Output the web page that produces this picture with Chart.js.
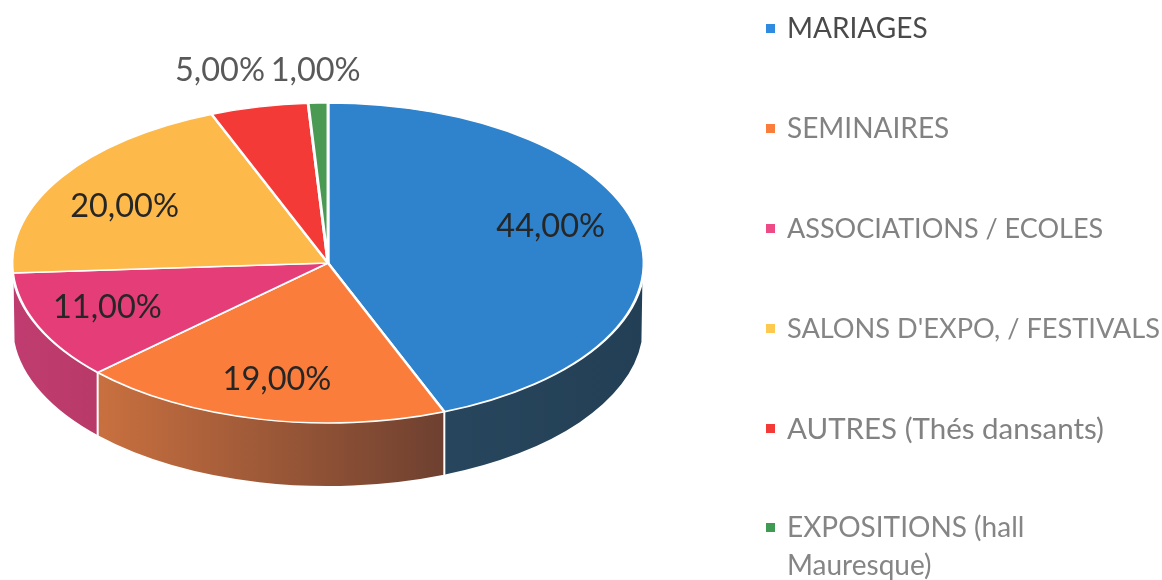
<!DOCTYPE html>
<html><head><meta charset="utf-8">
<style>html,body{margin:0;padding:0;background:#fff}canvas{display:block;filter:blur(0.45px)}</style>
<script src="https://cdn.jsdelivr.net/npm/chart.js@4"></script>
</head><body>
<div style="width:1162px;height:580px"><canvas id="c" width="1162" height="580"></canvas></div>
<script>
const categories = ['MARIAGES','SEMINAIRES','ASSOCIATIONS / ECOLES',"SALONS D'EXPO, / FESTIVALS",'AUTRES (Thés dansants)','EXPOSITIONS (hall Mauresque)'];
const legendLines = [['MARIAGES'],['SEMINAIRES'],['ASSOCIATIONS / ECOLES'],["SALONS D'EXPO, / FESTIVALS"],['AUTRES (Thés dansants)'],['EXPOSITIONS (hall','Mauresque)']];
const values = [44,19,11,20,5,1];
const topColors = ['#2e83cc','#fb7d3c','#e43d77','#fdb94a','#f43a36','#4a9a54'];
const sideColorsA = ['#27465d','#c9703f','#c03c70','#c99236','#b92c28','#35713d'];
const sideColorsB = ['#233f55','#6e4030','#b83a68','#c99236','#b92c28','#35713d'];
const legendColors = ['#2e8be0','#fb7d3c','#ee4b86','#fdc94f','#f43a36','#3f9a54'];
const legendTextColors = ['#4a4a4a','#828282','#828282','#858585','#828282','#858585'];
const labelColors = ['#262626','#262626','#262626','#262626','#595959','#595959'];
const labelNudges = [[-7,-14],[0,1],[-6,-3],[-6,7],[-57,-77],[-5,-74]];
const legendRows = [29,129,229,329,429,528];
const legendSizes = [28,28,27,27.2,29.5,28];

const RX = 316, RY = 160, DEPTH = 63;
const FONT = 'Lato, Carlito, "Open Sans", sans-serif';

const pie3d = {
  id:'pie3d',
  beforeDatasetsDraw(chart){
    const ctx = chart.ctx, arcs = chart.getDatasetMeta(0).data, e0 = arcs[0];
    const cx = e0.x, cy = e0.y;
    const minT = 0.1, maxT = Math.PI - 0.1;
    const pts = [];
    arcs.forEach((el,i)=>{
      const a = Math.max(el.startAngle,minT), b = Math.min(el.endAngle,maxT);
      if (b <= a) return;
      const xA = cx+RX*Math.cos(a), xB = cx+RX*Math.cos(b);
      const g = ctx.createLinearGradient(xB,0,xA,0);
      g.addColorStop(0,sideColorsA[i]); g.addColorStop(1,sideColorsB[i]);
      ctx.beginPath();
      ctx.ellipse(cx,cy,RX,RY,0,a,b,false);
      ctx.ellipse(cx,cy+DEPTH,RX-1,RY,0,b,a,true);
      ctx.closePath();
      ctx.fillStyle = g; ctx.fill();
      if (el.startAngle > minT) pts.push(el.startAngle);
    });
    ctx.strokeStyle = '#fff'; ctx.lineWidth = 2;
    pts.forEach(t=>{
      const x = cx+RX*Math.cos(t), y = cy+RY*Math.sin(t);
      ctx.beginPath(); ctx.moveTo(x,y); ctx.lineTo(x,y+DEPTH+1); ctx.stroke();
    });
    const R = e0.outerRadius;
    ctx.save();
    ctx.translate(cx,cy); ctx.scale(RX/R,RY/R); ctx.translate(-cx,-cy);
  },
  afterDatasetsDraw(chart){
    const ctx = chart.ctx, arcs = chart.getDatasetMeta(0).data;
    ctx.restore();
    const cx = arcs[0].x, cy = arcs[0].y;
    ctx.textBaseline = 'middle'; ctx.textAlign = 'center';
    ctx.font = '32.5px '+FONT;
    arcs.forEach((el,i)=>{
      const m = (el.startAngle+el.endAngle)/2;
      const x = cx+RX*0.74*Math.cos(m)+labelNudges[i][0];
      const y = cy+RY*0.74*Math.sin(m)+labelNudges[i][1];
      ctx.fillStyle = labelColors[i];
      ctx.fillText(values[i].toFixed(2).replace('.',',')+'%',x,y);
    });
    ctx.textAlign = 'left';
    legendLines.forEach((lines,i)=>{
      const y = legendRows[i];
      ctx.fillStyle = legendColors[i];
      ctx.fillRect(766,y-5,9,9);
      ctx.fillStyle = legendTextColors[i];
      ctx.font = legendSizes[i]+'px '+FONT;
      lines.forEach((t,k)=>ctx.fillText(t,787,y+k*38));
    });
  }
};

new Chart(document.getElementById('c'),{
  type:'pie',
  data:{labels:categories,datasets:[{data:values,backgroundColor:topColors,borderColor:'#fff',borderWidth:2.4,clip:false}]},
  options:{
    responsive:false,animation:false,
    layout:{padding:{left:0,top:0,right:506,bottom:54}},
    plugins:{legend:{display:false},tooltip:{enabled:false}}
  },
  plugins:[pie3d]
});
</script>
</body></html>
